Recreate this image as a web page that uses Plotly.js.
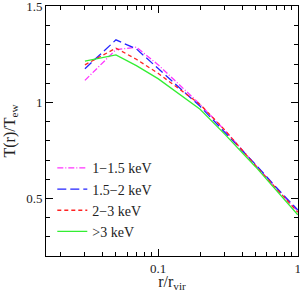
<!DOCTYPE html>
<html><head><meta charset="utf-8">
<script src="https://cdn.plot.ly/plotly-3.0.1.min.js"></script>
<style>html,body{margin:0;padding:0;background:#fff}#chart{width:300px;height:292px}</style>
</head><body><div id="chart"></div>
<script>
const radius = [0.03, 0.05, 0.07, 0.1, 0.2, 0.3, 0.5, 0.7, 1.0];
const t_1_15 = [1.115, 1.275, 1.288, 1.197, 0.99, 0.855, 0.672, 0.552, 0.432];
const t_15_2 = [1.176, 1.326, 1.279, 1.176, 0.98, 0.845, 0.676, 0.558, 0.44];
const t_2_3  = [1.196, 1.283, 1.225, 1.152, 0.99, 0.857, 0.670, 0.550, 0.428];
const t_gt3  = [1.215, 1.248, 1.192, 1.124, 0.965, 0.835, 0.664, 0.545, 0.415];
const seriesNames = ['1\u22121.5 keV', '1.5\u22122 keV', '2\u22123 keV', '>3 keV'];
const xTickVals = [0.1, 1];
const xTickText = ['0.1', '1'];
const yTickVals = [0.5, 1, 1.5];
const yTickText = ['0.5', '1', '1.5'];

const xMinor = [];
for (let d of [0.01, 0.1]) for (let k = 2; k <= 9; k++) xMinor.push(+(d * k).toFixed(3));
const yMinor = [];
for (let v = 0.2; v <= 1.5001; v += 0.1) yMinor.push(+v.toFixed(2));

const styles = [
  {color: '#ff33ff', dash: '6px,2px,1px,2px'},
  {color: '#2222ff', dash: '9px,4px'},
  {color: '#ff2222', dash: '4px,3px'},
  {color: '#33ee33', dash: 'solid'}
];
const ys = [t_1_15, t_15_2, t_2_3, t_gt3];
const traces = ys.map((y, i) => ({
  x: radius, y: y, type: 'scatter', mode: 'lines', name: seriesNames[i],
  line: {color: styles[i].color, dash: styles[i].dash, width: 1.3}
}));

const serif = 'Liberation Serif, serif';
const layout = {
  width: 300, height: 292,
  margin: {l: 46, r: 2, t: 6, b: 36},
  paper_bgcolor: '#fff', plot_bgcolor: '#fff',
  font: {family: serif, size: 13, color: '#222'},
  showlegend: true,
  legend: {x: 0.025, y: 0.035, xanchor: 'left', yanchor: 'bottom', bgcolor: 'rgba(0,0,0,0)',
           font: {family: serif, size: 14, color: '#222'},
           tracegroupgap: 0, itemwidth: 30},
  xaxis: {
    type: 'log', range: [Math.log10(0.0158), 0.0015],
    showline: true, linecolor: '#000', linewidth: 1, mirror: 'ticks',
    ticks: 'inside', ticklen: 7, tickcolor: '#000', ticklabeloverflow: 'allow',
    tickvals: xTickVals, ticktext: xTickText, showgrid: false, zeroline: false,
    tickfont: {family: serif, size: 13, color: '#222'},
    minor: {tickvals: xMinor, ticks: 'inside', ticklen: 4, tickcolor: '#000', showgrid: false},
    title: {text: 'r/r<sub>vir</sub>', font: {family: serif, size: 16, color: '#222'}, standoff: 4}
  },
  yaxis: {
    range: [0.2, 1.5025],
    showline: true, linecolor: '#000', linewidth: 1, mirror: 'ticks',
    ticks: 'inside', ticklen: 7, tickcolor: '#000', ticklabeloverflow: 'allow',
    tickvals: yTickVals, ticktext: yTickText, showgrid: false, zeroline: false,
    tickfont: {family: serif, size: 13, color: '#222'},
    minor: {tickvals: yMinor, ticks: 'inside', ticklen: 4, tickcolor: '#000', showgrid: false},
    title: {text: 'T(r)/T<sub>ew</sub>', font: {family: serif, size: 16, color: '#222'}, standoff: 6}
  }
};
Plotly.newPlot('chart', traces, layout, {displayModeBar: false, staticPlot: true});
</script></body></html>
